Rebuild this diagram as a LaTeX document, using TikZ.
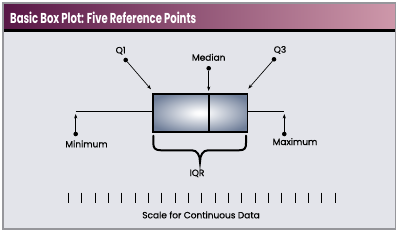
\documentclass[tikz,border=0pt]{standalone}
\usepackage{fontspec}
\usepackage{graphicx}
\setmainfont{Poppins}
\newfontfamily\labfont[FakeBold=0.4]{Poppins}
\usetikzlibrary{arrows.meta}
\definecolor{titleL}{RGB}{88,22,70}
\definecolor{titleM}{RGB}{145,80,115}
\definecolor{titleR}{RGB}{206,152,170}
\definecolor{panelbg}{RGB}{227,228,234}
\definecolor{framegray}{RGB}{150,150,155}
\definecolor{boxblue}{RGB}{110,125,152}
\pgfdeclareradialshading{boxshade}{\pgfpoint{0bp}{0bp}}{%
  color(0bp)=(white); color(3bp)=(white!96!boxblue); color(30bp)=(boxblue); color(50bp)=(boxblue)}
\begin{document}
\begin{tikzpicture}[x=1pt,y=-1pt,
  lab/.style={font=\labfont\fontsize{9}{10}\selectfont, inner sep=0pt, anchor=base},
  dot/.style={circle,fill=black,inner sep=0pt,minimum size=4.6pt},
  pointer/.style={-{Stealth[length=4.5pt,width=3.2pt]}, line width=0.65pt},
  heavy/.style={line width=1.8pt},
  tick/.style={line width=1pt}]
\useasboundingbox (0,0) rectangle (400,233);
\fill[white] (0,0) rectangle (400,233);
\fill[panelbg] (3,31) rectangle (395.5,229);
\shade[left color=titleL, middle color=titleM, right color=titleR] (3,3) rectangle (395.5,29.5);
\fill[black] (3,29.3) rectangle (395.5,31.8);
\draw[framegray, line width=1.2pt] (3,3) rectangle (395.5,229);
\node[anchor=base west, text=white, inner sep=0pt] (title) at (10,23.5)
  {\resizebox{186pt}{11.5pt}{\bfseries Basic Box Plot: Five Reference Points}};

% box
\node[draw, heavy, minimum width=94.5pt, minimum height=38pt, inner sep=0pt,
  anchor=north west, shading=boxshade] (box) at (152,93) {};
\coordinate (medtop) at (208.7,93);
\coordinate (medbot) at (208.7,131);
\draw[heavy] (medtop) -- (medbot);

% whiskers
\coordinate (minend) at (75.7,111.5);
\coordinate (maxend) at (284.3,111.5);
\draw[heavy] (minend) -- (minend -| box.west);
\draw[heavy] (box.east |- maxend) -- (maxend);

% pointers
\node[dot] (q1dot) at (125.7,60) {};
\coordinate (q1tip) at (151,89.3);
\draw[pointer] (q1dot) -- (q1tip);
\node[lab] (q1) at (120.7,53.3) {Q1};

\node[dot] (meddot) at (208.7,68.3) {};
\coordinate (medtip) at (208.7,91);
\draw[pointer] (meddot) -- (medtip);
\node[lab] (med) at (208.7,60.7) {Median};

\node[dot] (q3dot) at (274,59.3) {};
\coordinate (q3tip) at (248.3,88.7);
\draw[pointer] (q3dot) -- (q3tip);
\node[lab] (q3) at (280,52.7) {Q3};

\node[dot] (mindot) at (75.7,134) {};
\coordinate (mintip) at (75.7,114);
\draw[pointer] (mindot) -- (mintip);
\node[lab] (minlab) at (86.5,147.3) {Minimum};

\node[dot] (maxdot) at (284.3,134) {};
\coordinate (maxtip) at (284.3,114);
\draw[pointer] (maxdot) -- (maxtip);
\node[lab] (maxlab) at (295,145) {Maximum};

% brace
\draw[line width=2pt, line cap=round]
  (153.3,135.7) -- (153.3,143) .. controls (153.3,148) and (155,150.3) .. (161,150.3)
  -- (192,150.3) .. controls (197,150.3) and (200,155) .. (200,162)
  .. controls (200,155) and (203,150.3) .. (208,150.3)
  -- (239,150.3) .. controls (245,150.3) and (246,148) .. (246,143) -- (246,135.7);
\node[lab] (iqr) at (197,176) {IQR};

% scale
\foreach \i in {0,...,20} {
  \draw[tick] ({68.5+\i*13.33},192.5) -- ({68.5+\i*13.33},203.3);
}
\node[lab] (scale) at (201,218.3) {Scale for Continuous Data};
\end{tikzpicture}
\end{document}
